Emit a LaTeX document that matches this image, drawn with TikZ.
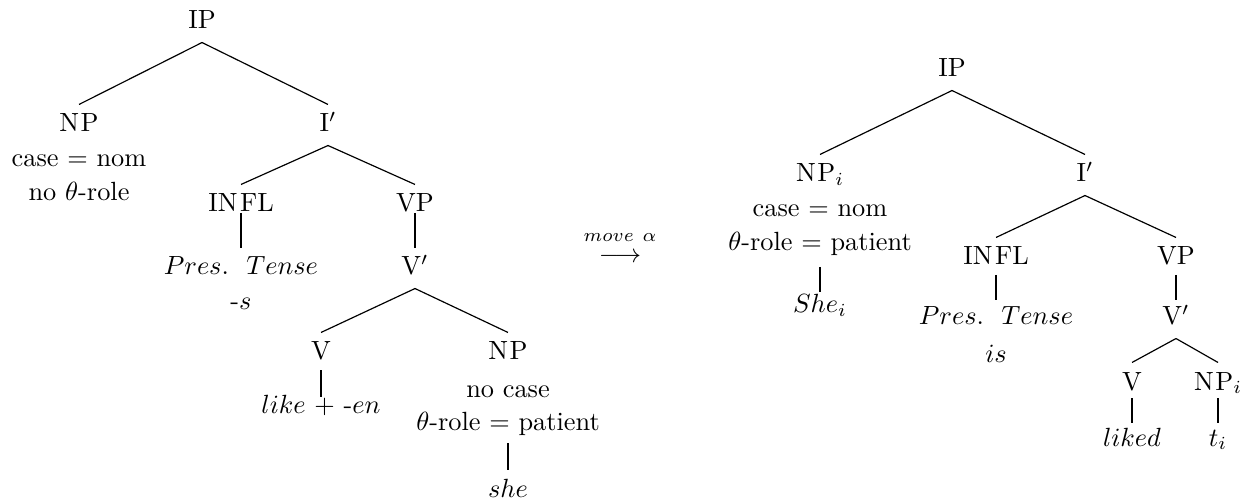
\documentclass[tikz,border=0pt]{standalone}
\begin{document}
\begin{tikzpicture}[x=0.38pt,y=-0.38pt,
  cat/.style={anchor=base,inner sep=0pt,text height=10.26pt,text depth=4.94pt},
  txt/.style={anchor=base,inner sep=0pt},
  branch/.style={line width=0.45pt},
  stem/.style={line width=1.1pt},
  sh/.style 2 args={shorten <=#1*0.38pt, shorten >=#2*0.38pt}]
\useasboundingbox (0,0) rectangle (1255,500);

% ---- D-structure ----
\node[cat] (lip)   at (202,29)  {IP};
\node[cat] (lnp)   at (79,132)  {N\kern0.6pt P};
\node[txt] (lnpcase) at (79,167) {case $=$ nom};
\node[txt] (lnprole) at (79,201) {no $\theta$-role};
\node[cat] (libar) at (328,132) {I$'$};
\node[cat] (linfl) at (241,212) {IN\kern1pt FL};
\node[cat] (lvp)   at (415,212) {VP};
\node[txt] (lpres) at (241,275) {$Pres.\ \ Tense$};
\node[txt] (lsuf)  at (241,310) {-$s$};
\node[cat] (lvbar) at (415,275) {V$'$};
\node[cat] (lv)    at (321,360) {V};
\node[cat] (lobj)  at (508,360) {N\kern0.6pt P};
\node[txt] (llike) at (321,413) {$like$ + -$en$};
\node[txt] (lobjcase) at (508,397) {no case};
\node[txt] (lobjrole) at (508,430) {$\theta$-role $=$ patient};
\node[txt] (lshe)  at (508,497) {$she$};

\draw[branch] (lip.south) -- (lnp.north);
\draw[branch] (lip.south) -- (libar.north);
\draw[branch] (libar.south) -- (linfl.north);
\draw[branch] (libar.south) -- (lvp.north);
\draw[branch] (lvbar.south) -- (lv.north);
\draw[branch] (lvbar.south) -- (lobj.north);
\draw[stem,sh={1}{27}] (linfl.base) -- (lpres.base);
\draw[stem,sh={1}{27}] (lvp.base) -- (lvbar.base);
\draw[stem,sh={10}{16}] (lv.base) -- (llike.base);
\draw[stem,sh={13}{27}] (lobjrole.base) -- (lshe.base);

% ---- movement arrow with its label ----
\node[txt] (movelbl) at (620,242) {$\scriptstyle move\ \alpha$};
\node[txt] (movearr) at (620,263) {$\longrightarrow$};

% ---- S-structure ----
\node[cat] (rip)   at (952,77)   {IP};
\node[cat] (rnp)   at (820,182)  {N\kern0.6pt P$_i$};
\node[txt] (rnpcase) at (820,217) {case $=$ nom};
\node[txt] (rnprole) at (820,251) {$\theta$-role $=$ patient};
\node[txt] (rshe)  at (820,313)  {$She_i$};
\node[cat] (ribar) at (1085,182) {I$'$};
\node[cat] (rinfl) at (996,265)  {IN\kern1pt FL};
\node[cat] (rvp)   at (1176,265) {VP};
\node[txt] (rpres) at (996,325)  {$Pres.\ \ Tense$};
\node[txt] (ris)   at (996,362)  {$is$};
\node[cat] (rvbar) at (1176,325) {V$'$};
\node[cat] (rv)    at (1132,390) {V};
\node[cat] (robj)  at (1218,390) {N\kern0.6pt P$_i$};
\node[txt] (rliked) at (1132,446) {$liked$};
\node[txt] (rtrace) at (1218,446) {$t_i$};

\draw[branch] (rip.south) -- (rnp.north);
\draw[branch] (rip.south) -- (ribar.north);
\draw[branch] (ribar.south) -- (rinfl.north);
\draw[branch] (ribar.south) -- (rvp.north);
\draw[branch] (rvbar.south) -- (rv.north);
\draw[branch] (rvbar.south) -- (robj.north);
\draw[stem,sh={16}{21}] (rnprole.base) -- (rshe.base);
\draw[stem,sh={10}{25}] (rinfl.base) -- (rpres.base);
\draw[stem,sh={10}{25}] (rvp.base) -- (rvbar.base);
\draw[stem,sh={8}{23}] (rv.base) -- (rliked.base);
\draw[stem,sh={8}{23}] (robj.base) -- (rtrace.base);
\end{tikzpicture}
\end{document}
